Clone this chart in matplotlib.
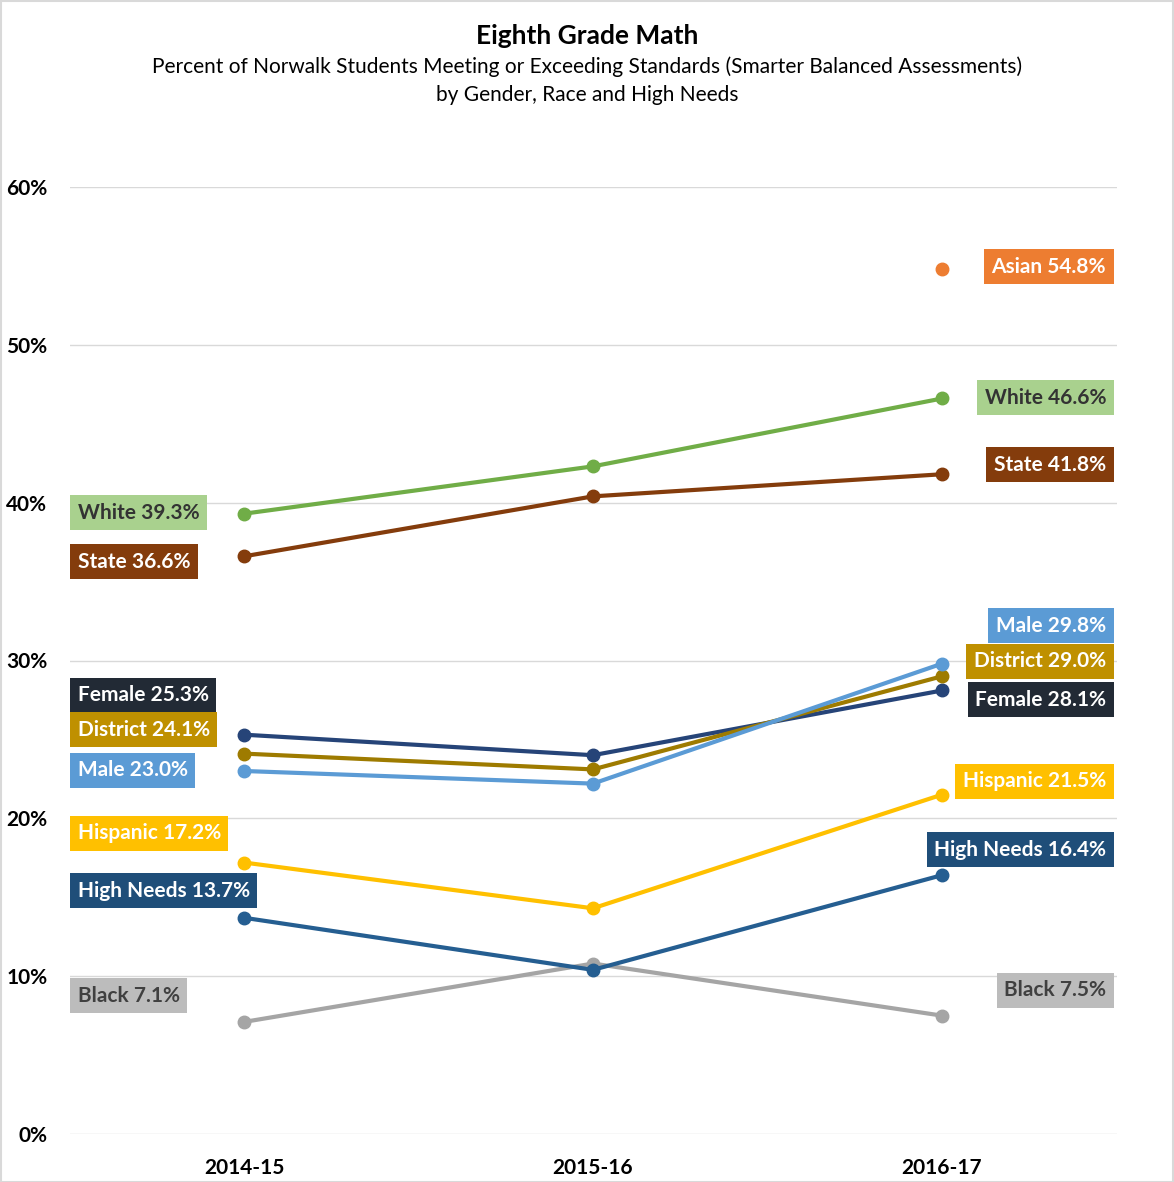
import matplotlib

matplotlib.use("Agg")

import matplotlib.pyplot as plt
import numpy as np
from matplotlib.patches import Rectangle
from matplotlib.ticker import PercentFormatter

plt.rcParams["font.family"] = ["Lato", "DejaVu Sans"]

years = ["2014-15", "2015-16", "2016-17"]

white = [39.3, 42.3, 46.6]
state = [36.6, 40.4, 41.8]
female = [25.3, 24.0, 28.1]
district = [24.1, 23.1, 29.0]
male = [23.0, 22.2, 29.8]
hispanic = [17.2, 14.3, 21.5]
high_needs = [13.7, 10.4, 16.4]
black = [7.1, 10.8, 7.5]
asian = [np.nan, np.nan, 54.8]

# name, values, line colour, label bg, label text colour,
# left label y, right label y (label placement, in axis units)
series = [
    ("Black", black, "#A5A5A5", "#BCBCBC", "#404040", 8.75, 9.1),
    ("High Needs", high_needs, "#255E91", "#1F4E79", "white", 15.4, 18.0),
    ("Hispanic", hispanic, "#FFC000", "#FFC000", "white", 19.05, 22.35),
    ("Female", female, "#264478", "#222A35", "white", 27.8, 27.5),
    ("District", district, "#9E7B00", "#BF9000", "white", 25.6, 29.95),
    ("Male", male, "#5B9BD5", "#5B9BD5", "white", 23.05, 32.2),
    ("State", state, "#843C0C", "#843C0C", "white", 36.25, 42.4),
    ("White", white, "#70AD47", "#A9D18E", "#333333", 39.35, 46.65),
    ("Asian", asian, "#ED7D31", "#ED7D31", "white", None, 54.95),
]

W, H = 1174, 1182
fig = plt.figure(figsize=(W / 100, H / 100), dpi=100)
ax = fig.add_axes([69.5 / W, (H - 1134) / H, (1116.5 - 69.5) / W, (1134 - 187) / H])

x = np.arange(len(years))

for name, vals, lc, bg, tc, yl, yr in series:
    ax.plot(x, vals, color=lc, lw=3, marker="o", ms=9, solid_capstyle="round", zorder=3)
    if yl is not None:
        ax.annotate(f"{name} {vals[0]:.1f}%", xy=(-0.5, yl), xytext=(5.8, 0),
                    textcoords="offset points", ha="left", va="center",
                    fontsize=15, fontweight="bold", color=tc, zorder=5,
                    bbox=dict(boxstyle="square,pad=0.36", fc=bg, ec="none"))
    ax.annotate(f"{name} {vals[2]:.1f}%", xy=(2.5, yr), xytext=(-7.5, 0),
                textcoords="offset points", ha="right", va="center",
                fontsize=15, fontweight="bold", color=tc, zorder=5,
                bbox=dict(boxstyle="square,pad=0.36", fc=bg, ec="none"))

ax.set_xlim(-0.5, 2.5)
ax.set_ylim(0, 60)
ax.set_yticks(range(0, 61, 10))
ax.yaxis.set_major_formatter(PercentFormatter(decimals=0))
ax.set_xticks(x)
ax.set_xticklabels(years)
ax.grid(axis="y", color="#D9D9D9", lw=1)
ax.set_axisbelow(True)
for s in ax.spines.values():
    s.set_visible(False)
ax.tick_params(length=0, labelsize=15)
ax.tick_params(axis="x", pad=17)
ax.tick_params(axis="y", pad=16)
for lab in ax.get_xticklabels() + ax.get_yticklabels():
    lab.set_fontweight("bold")

fig.text(0.5, 1 - 36 / H, "Eighth Grade Math", ha="center", va="center",
         fontsize=19, fontweight="bold")
fig.text(0.5, 1 - 67 / H, "Percent of Norwalk Students Meeting or Exceeding Standards (Smarter Balanced Assessments)",
         ha="center", va="center", fontsize=15)
fig.text(0.5, 1 - 95 / H, "by Gender, Race and High Needs", ha="center", va="center", fontsize=15)

fig.patches.append(Rectangle((0.5 / W, 0.5 / H), 1 - 1.5 / W, 1 - 1.5 / H, transform=fig.transFigure,
                             fill=False, ec="#D9D9D9", lw=1.5))

fig.savefig("out.png", dpi=100)
